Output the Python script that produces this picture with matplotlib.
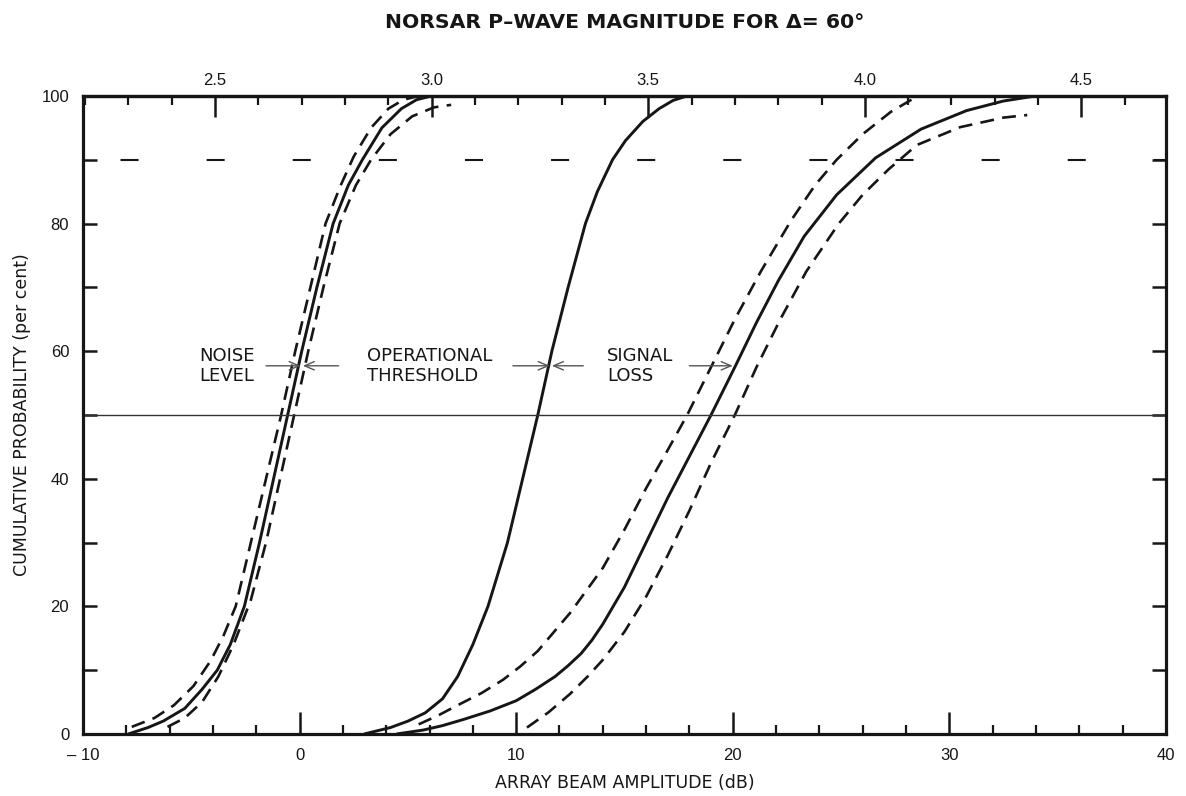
import matplotlib
matplotlib.use('Agg')
import matplotlib.pyplot as plt
from matplotlib.ticker import MultipleLocator

# Curves: array beam amplitude (dB) vs cumulative probability (%)
noise_db = [-7.9, -7.0, -6.3, -5.3, -4.5, -3.8, -3.2, -2.55, -1.85, -1.2, -0.55, 0.1, 0.8, 1.55, 2.25, 2.9, 3.8, 4.7, 5.4, 6.1]
noise_pct = [0, 1, 2, 4, 7, 10, 14, 20, 30, 40, 50, 60, 70, 80, 86, 90, 95, 98, 99.4, 100]

noise_lo_db = [-7.75, -6.7, -5.8, -4.9, -4.1, -3.5, -2.95, -2.25, -1.55, -0.85, -0.2, 0.5, 1.2, 1.9, 2.5, 3.3, 4.1, 4.8, 5.5]
noise_lo_pct = [1.1, 2.5, 4.5, 7.5, 11.5, 15.5, 20, 30, 40, 50, 60, 70, 80, 86, 90.5, 95, 98, 99.4, 100]

noise_hi_db = [-6.1, -5.3, -4.5, -3.75, -3.05, -2.25, -1.55, -0.9, -0.25, 0.4, 1.1, 1.85, 2.6, 3.3, 4.2, 5.2, 6.2, 7.0]
noise_hi_pct = [1.1, 2.5, 5, 9, 14, 21, 30, 40, 50, 60, 70, 80, 86, 90, 94, 96.8, 98.2, 98.6]

thresh_db = [3.0, 4.2, 5.0, 5.8, 6.6, 7.3, 8.0, 8.7, 9.6, 10.3, 11.0, 11.65, 12.4, 13.2, 13.75, 14.45, 15.05, 15.85, 16.6, 17.25, 17.9]
thresh_pct = [0, 1, 2, 3.3, 5.5, 9, 14, 20, 30, 40, 50, 60, 70, 80, 85, 90, 93, 96, 98, 99.3, 100]

signal_db = [4.5, 5.7, 6.6, 7.6, 8.8, 10.0, 10.9, 11.8, 12.4, 13.0, 13.5, 14.0, 15.0, 16.0, 17.0, 18.0, 19.0, 20.1, 21.1, 22.1, 23.3, 24.8, 26.6, 28.7, 30.8, 32.5, 34.0]
signal_pct = [0, 0.6, 1.3, 2.3, 3.6, 5.2, 7, 9, 10.7, 12.6, 14.7, 17.2, 23, 30, 37, 43.5, 50, 57.5, 64.5, 71, 78, 84.5, 90.3, 94.8, 97.7, 99.2, 100]

signal_lo_db = [5.5, 6.4, 7.3, 8.4, 9.4, 10.2, 11.0, 12.5, 14.0, 15.0, 16.0, 17.0, 17.9, 19.0, 20.1, 21.3, 22.7, 23.8, 24.8, 26.0, 27.3, 28.3]
signal_lo_pct = [1.5, 2.9, 4.5, 6.4, 8.5, 10.6, 13, 19, 26, 32, 38.5, 44.5, 50, 57.5, 65, 72.5, 80.5, 86, 90, 94, 97.5, 99.5]

signal_hi_db = [10.5, 11.5, 12.5, 13.3, 14.0, 15.0, 16.0, 17.0, 18.0, 19.0, 20.1, 21.1, 22.2, 23.4, 24.9, 26.0, 27.2, 28.5, 30.5, 32.5, 33.6]
signal_hi_pct = [1.0, 3.4, 6.3, 9.0, 11.6, 16, 21.5, 28, 35, 42.5, 50, 57.5, 65, 72.5, 80, 84.5, 88.5, 92.3, 95.1, 96.6, 97.0]

x_ticks = [-10, 0, 10, 20, 30, 40]
x_tick_labels = ['\u2013 10', '0', '10', '20', '30', '40']
y_ticks = [0, 20, 40, 60, 80, 100]
mag_ticks = [2.5, 3.0, 3.5, 4.0, 4.5]
mag_tick_labels = ['2.5', '3.0', '3.5', '4.0', '4.5']
mag_ref_db = -3.9   # amplitude (dB) that corresponds to magnitude 2.5

arrow_pct = 57.7
noise_at = 0.05
thresh_at = 11.55
signal_at = 20.0

plt.rcParams['font.family'] = ['Liberation Sans', 'DejaVu Sans']
plt.rcParams['lines.scale_dashes'] = False

ink = '#161616'

fig = plt.figure(figsize=(11.86, 7.96), dpi=100)
ax = fig.add_axes([0.070, 0.078, 0.913, 0.8015])

solid = dict(color=ink, lw=2.1, solid_capstyle='round', solid_joinstyle='round')
dash = dict(color=ink, lw=1.9, dashes=(10, 6))

ax.plot(noise_db, noise_pct, **solid)
ax.plot(noise_lo_db, noise_lo_pct, **dash)
ax.plot(noise_hi_db, noise_hi_pct, **dash)
ax.plot(thresh_db, thresh_pct, **solid)
ax.plot(signal_db, signal_pct, **solid)
ax.plot(signal_lo_db, signal_lo_pct, **dash)
ax.plot(signal_hi_db, signal_hi_pct, **dash)

# reference levels
ax.axhline(50, color='#333333', lw=1.0)
ax.axhline(90, color=ink, lw=1.5, linestyle=(35, (13, 49)))

ax.set_xlim(-10, 40)
ax.set_ylim(0, 100)

# labels with arrows
arr = dict(arrowstyle='->,head_length=0.7,head_width=0.3', color='#555555', lw=1.0,
           shrinkA=0, shrinkB=0)
ax.annotate('', xy=(noise_at, arrow_pct), xytext=(-1.55, arrow_pct), arrowprops=arr)
ax.annotate('', xy=(noise_at + 0.1, arrow_pct), xytext=(1.8, arrow_pct), arrowprops=arr)
ax.annotate('', xy=(thresh_at, arrow_pct), xytext=(9.85, arrow_pct), arrowprops=arr)
ax.annotate('', xy=(thresh_at + 0.1, arrow_pct), xytext=(13.1, arrow_pct), arrowprops=arr)
ax.annotate('', xy=(signal_at, arrow_pct), xytext=(18.0, arrow_pct), arrowprops=arr)

txt = dict(fontsize=13, color=ink, va='center', ha='left', linespacing=1.15,
           family=['DejaVu Sans'])
ax.text(-4.65, arrow_pct, 'NOISE\nLEVEL', **txt)
ax.text(3.1, arrow_pct, 'OPERATIONAL\nTHRESHOLD', **txt)
ax.text(14.2, arrow_pct, 'SIGNAL\nLOSS', **txt)

# bottom / side axes
for s in ax.spines.values():
    s.set_linewidth(2.3)
    s.set_color(ink)

ax.set_xticks(x_ticks)
ax.set_xticklabels(x_tick_labels)
ax.xaxis.set_minor_locator(MultipleLocator(2))
ax.set_yticks(y_ticks)
ax.yaxis.set_minor_locator(MultipleLocator(10))

ax.tick_params(axis='x', which='major', direction='in', length=16, width=1.8,
               top=False, labelsize=12, pad=10, colors=ink)
ax.tick_params(axis='x', which='minor', direction='in', length=6.5, width=1.6, top=False, colors=ink)
ax.tick_params(axis='y', which='both', direction='in', length=10, width=1.8,
               left=True, right=True, labelright=False, labelsize=12, pad=10, colors=ink)

# magnitude scale along the top
secax = ax.secondary_xaxis('top', functions=(lambda d: 2.5 + (d - mag_ref_db) / 20.0,
                                             lambda m: mag_ref_db + (m - 2.5) * 20.0))
secax.set_xticks(mag_ticks)
secax.set_xticklabels(mag_tick_labels)
secax.xaxis.set_minor_locator(MultipleLocator(0.1))
secax.tick_params(which='major', direction='in', length=15, width=1.8, labelsize=12, pad=6, colors=ink)
secax.tick_params(which='minor', direction='in', length=6.5, width=1.6, colors=ink)
secax.spines['top'].set_linewidth(2.3)

fig.text(0.5266, 1 - 22 / 796, 'NORSAR P\u2013WAVE MAGNITUDE FOR \u0394= 60\u00b0',
         ha='center', va='center', fontsize=14.7, fontweight='bold',
         family=['DejaVu Sans'], color=ink)
fig.text(0.5266, 1 - 783 / 796, 'ARRAY BEAM AMPLITUDE (dB)', ha='center', va='center',
         fontsize=12.5, family=['DejaVu Sans'], color=ink)
fig.text(22 / 1186, 1 - 415 / 796, 'CUMULATIVE PROBABILITY (per cent)', rotation=90,
         ha='center', va='center', fontsize=12.5, family=['DejaVu Sans'], color=ink)

fig.savefig('out.png', dpi=100, facecolor='white')
